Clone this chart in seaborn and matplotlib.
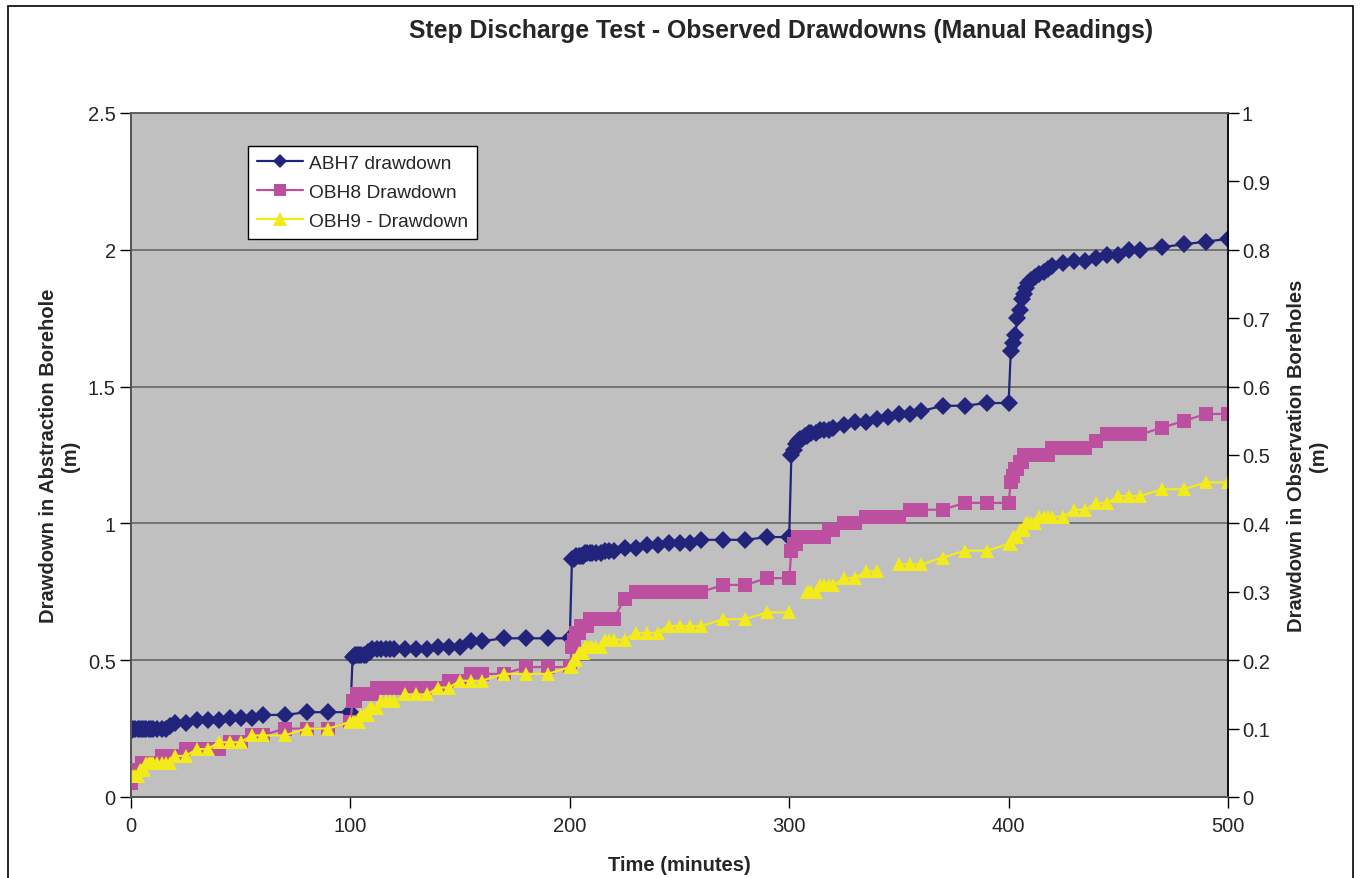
import numpy as np
import pandas as pd
import matplotlib
matplotlib.use("Agg")
import matplotlib.pyplot as plt
from matplotlib.lines import Line2D
from matplotlib.ticker import FuncFormatter
import seaborn as sns

nan = np.nan

# ---------------- data ----------------
time_min = [0, 1, 2, 3, 4, 5, 6, 7, 8, 9, 10, 12, 14, 16, 18, 20, 25, 30, 35, 40, 45, 50, 55, 60, 70, 80, 90, 100,
            101, 102, 103, 104, 105, 106, 107, 108, 109, 110, 112, 114, 116, 118, 120, 125, 130, 135, 140, 145, 150, 155, 160, 170, 180, 190, 200,
            201, 202, 203, 204, 205, 206, 207, 208, 209, 210, 212, 214, 216, 218, 220, 225, 230, 235, 240, 245, 250, 255, 260, 270, 280, 290, 300,
            301, 302, 303, 304, 305, 306, 307, 308, 309, 310, 312, 314, 316, 318, 320, 325, 330, 335, 340, 345, 350, 355, 360, 370, 380, 390, 400,
            401, 402, 403, 404, 405, 406, 407, 408, 409, 410, 412, 414, 416, 418, 420, 425, 430, 435, 440, 445, 450, 455, 460, 470, 480, 490, 500]

abh7_drawdown = [0.24, 0.25, 0.25, 0.25, 0.25, 0.25, 0.25, 0.25, 0.25, 0.25, 0.25, 0.25, 0.25, 0.25, 0.26, 0.27,
                 0.27, 0.28, 0.28, 0.28, 0.29, 0.29, 0.29, 0.30, 0.30, 0.31, 0.31, 0.31,
                 0.51, 0.52, 0.52, 0.52, 0.52, 0.52, 0.52, 0.53, 0.53, 0.54, 0.54, 0.54, 0.54, 0.54, 0.54,
                 0.54, 0.54, 0.54, 0.55, 0.55, 0.55, 0.57, 0.57, 0.58, 0.58, 0.58, 0.58,
                 0.87, 0.87, 0.88, 0.88, 0.88, 0.88, 0.89, 0.89, 0.89, 0.89, 0.89, 0.89, 0.90, 0.90, 0.90,
                 0.91, 0.91, 0.92, 0.92, 0.93, 0.93, 0.93, 0.94, 0.94, 0.94, 0.95, 0.95,
                 1.25, 1.27, 1.29, 1.30, 1.31, 1.31, 1.32, 1.32, 1.33, 1.33, 1.33, 1.34, 1.34, 1.34, 1.35,
                 1.36, 1.37, 1.37, 1.38, 1.39, 1.40, 1.40, 1.41, 1.43, 1.43, 1.44, 1.44,
                 1.63, 1.66, 1.69, 1.75, 1.78, 1.82, 1.84, 1.86, 1.88, 1.89, 1.90, 1.91, 1.92, 1.93, 1.94,
                 1.95, 1.96, 1.96, 1.97, 1.98, 1.98, 2.00, 2.00, 2.01, 2.02, 2.03, 2.04]

obh8_drawdown = [0.02, 0.03, 0.04, 0.04, 0.04, 0.05, 0.05, 0.05, 0.05, 0.05, 0.05, 0.05, 0.06, 0.06, 0.06, 0.06,
                 0.07, 0.07, 0.07, 0.07, 0.08, 0.08, 0.09, 0.09, 0.10, 0.10, 0.10, 0.11,
                 0.14, 0.14, 0.15, 0.15, 0.15, 0.15, 0.15, 0.15, 0.15, 0.15, 0.16, 0.16, 0.16, 0.16, 0.16,
                 0.16, 0.16, 0.16, 0.16, 0.17, 0.17, 0.18, 0.18, 0.18, 0.19, 0.19, 0.19,
                 0.22, 0.23, 0.24, 0.24, 0.25, 0.25, 0.25, 0.25, 0.26, 0.26, 0.26, 0.26, 0.26, 0.26, 0.26,
                 0.29, 0.30, 0.30, 0.30, 0.30, 0.30, 0.30, 0.30, 0.31, 0.31, 0.32, 0.32,
                 0.36, 0.37, 0.37, 0.38, 0.38, 0.38, 0.38, 0.38, 0.38, 0.38, 0.38, 0.38, 0.38, 0.39, 0.39,
                 0.40, 0.40, 0.41, 0.41, 0.41, 0.41, 0.42, 0.42, 0.42, 0.43, 0.43, 0.43,
                 0.46, 0.47, 0.48, 0.48, 0.49, 0.49, 0.50, 0.50, 0.50, 0.50, 0.50, 0.50, 0.50, 0.50, 0.51,
                 0.51, 0.51, 0.51, 0.52, 0.53, 0.53, 0.53, 0.53, 0.54, 0.55, 0.56, 0.56]

obh9_drawdown = [0.03, 0.03, 0.03, 0.03, 0.04, 0.04, 0.04, 0.05, 0.05, 0.05, 0.05, 0.05, 0.05, 0.05, 0.05, 0.06,
                 0.06, 0.07, 0.07, 0.08, 0.08, 0.08, 0.09, 0.09, 0.09, 0.10, 0.10, 0.11,
                 0.11, 0.11, 0.11, 0.11, 0.12, 0.12, 0.12, 0.12, 0.13, 0.13, 0.13, 0.14, 0.14, 0.14, 0.14,
                 0.15, 0.15, 0.15, 0.16, 0.16, 0.17, 0.17, 0.17, 0.18, 0.18, 0.18, 0.19,
                 0.19, 0.20, 0.20, 0.21, 0.21, 0.21, 0.22, 0.22, 0.22, 0.22, 0.22, 0.22, 0.23, 0.23, 0.23,
                 0.23, 0.24, 0.24, 0.24, 0.25, 0.25, 0.25, 0.25, 0.26, 0.26, 0.27, 0.27,
                 nan, nan, nan, nan, nan, nan, nan, 0.30, 0.30, 0.30, 0.30, 0.31, 0.31, 0.31, 0.31,
                 0.32, 0.32, 0.33, 0.33, nan, 0.34, 0.34, 0.34, 0.35, 0.36, 0.36, 0.37,
                 0.37, 0.38, 0.38, 0.38, 0.39, 0.39, 0.39, 0.40, 0.40, 0.40, 0.40, 0.41, 0.41, 0.41, 0.41,
                 0.41, 0.42, 0.42, 0.43, 0.43, 0.44, 0.44, 0.44, 0.45, 0.45, 0.46, 0.46]

series_labels = ["ABH7 drawdown", "OBH8 Drawdown", "OBH9 - Drawdown"]
left_ticks = [0, 0.5, 1, 1.5, 2, 2.5]
right_ticks = [0, 0.1, 0.2, 0.3, 0.4, 0.5, 0.6, 0.7, 0.8, 0.9, 1]
x_ticks = [0, 100, 200, 300, 400, 500]

# ---------------- style ----------------
sns.set_style("white")
plt.rcParams["font.family"] = ["Liberation Sans", "DejaVu Sans"]

NAVY = "#22237A"
PINK = "#BC4F9F"
YELLOW = "#F2EA1A"
BG = "#C0C0C0"


def with_segments(t, v):
    df = pd.DataFrame({"time": t, "value": v})
    df["seg"] = df["value"].isna().cumsum()
    return df.dropna()


fig = plt.figure(figsize=(13.6, 8.79), dpi=100)
fig.subplots_adjust(left=131 / 1360, right=1228 / 1360, top=1 - 114 / 879, bottom=1 - 798 / 879)
ax = fig.add_subplot(111)
ax.set_facecolor(BG)

# figure border
fig.add_artist(plt.Rectangle((8 / 1360, -0.01), (1353 - 8) / 1360, 1.01 - 7 / 879,
                             transform=fig.transFigure, fill=False, edgecolor="black", linewidth=1.2))

df_a = with_segments(time_min, abh7_drawdown)
sns.lineplot(data=df_a, x="time", y="value", units="seg", estimator=None, ax=ax,
             color=NAVY, linewidth=1.6, marker="D", markersize=9, markeredgewidth=0,
             legend=False, sort=False, zorder=3)

ax.set_xlim(0, 500)
ax.set_ylim(0, 2.5)
ax.set_xticks(x_ticks)
ax.set_yticks(left_ticks)
ax.yaxis.set_major_formatter(FuncFormatter(lambda v, p: f"{v:g}"))
ax.grid(axis="y", color="#6E6E6E", linewidth=1.3)
ax.grid(axis="x", visible=False)
ax.set_axisbelow(True)

ax2 = ax.twinx()
df_8 = with_segments(time_min, obh8_drawdown)
df_9 = with_segments(time_min, obh9_drawdown)
sns.lineplot(data=df_8, x="time", y="value", units="seg", estimator=None, ax=ax2,
             color=PINK, linewidth=1.6, marker="s", markersize=9.5, markeredgewidth=0,
             legend=False, sort=False)
sns.lineplot(data=df_9, x="time", y="value", units="seg", estimator=None, ax=ax2,
             color=YELLOW, linewidth=1.6, marker="^", markersize=10, markeredgewidth=0,
             legend=False, sort=False)
ax2.set_ylim(0, 1)
ax2.set_yticks(right_ticks)
ax2.yaxis.set_major_formatter(FuncFormatter(lambda v, p: f"{v:g}"))
ax2.grid(False)
ax2.set_xlim(0, 500)

for a in (ax, ax2):
    for s in a.spines.values():
        s.set_color("#606060")
        s.set_linewidth(1.2)
ax.spines["bottom"].set_color("black")
ax.spines["left"].set_color("black")
ax2.spines["right"].set_color("black")

ax.tick_params(axis="y", which="major", direction="out", length=8, width=1, color="black",
               labelsize=14.5, pad=3, left=True)
ax.tick_params(axis="x", which="major", direction="out", length=8, width=1, color="black",
               labelsize=14.5, pad=6, bottom=True)
ax2.tick_params(axis="y", direction="out", length=8, width=1, color="black", labelsize=14.5, pad=2, right=True)

ax.set_xlabel("Time (minutes)", fontsize=14.5, fontweight="bold", labelpad=14)
ax.set_ylabel("Drawdown in Abstraction Borehole\n(m)", fontsize=14.5, fontweight="bold", labelpad=6)
ax2.set_ylabel("Drawdown in Observation Boreholes\n(m)", fontsize=14.5, fontweight="bold", labelpad=12,
               rotation=90)

fig.text(781 / 1360, 1 - 31 / 879, "Step Discharge Test - Observed Drawdowns (Manual Readings)",
         ha="center", va="center", fontsize=17.8, fontweight="bold")

handles = [
    Line2D([], [], color=NAVY, linewidth=1.6, marker="D", markersize=7.5, markeredgewidth=0),
    Line2D([], [], color=PINK, linewidth=1.6, marker="s", markersize=8.5, markeredgewidth=0),
    Line2D([], [], color=YELLOW, linewidth=1.6, marker="^", markersize=9.5, markeredgewidth=0),
]
leg = ax2.legend(handles, series_labels, loc="upper left",
                 bbox_to_anchor=((248 - 131) / 1097, (798 - 147) / 684),
                 frameon=True, fancybox=False, shadow=False, fontsize=13.8,
                 handlelength=2.4, handletextpad=0.35, borderpad=0.45, labelspacing=0.6,
                 borderaxespad=0)
leg.get_frame().set_edgecolor("black")
leg.get_frame().set_linewidth(1.0)
leg.get_frame().set_facecolor("white")
leg.get_frame().set_alpha(1)

fig.savefig("out.png", dpi=100)
